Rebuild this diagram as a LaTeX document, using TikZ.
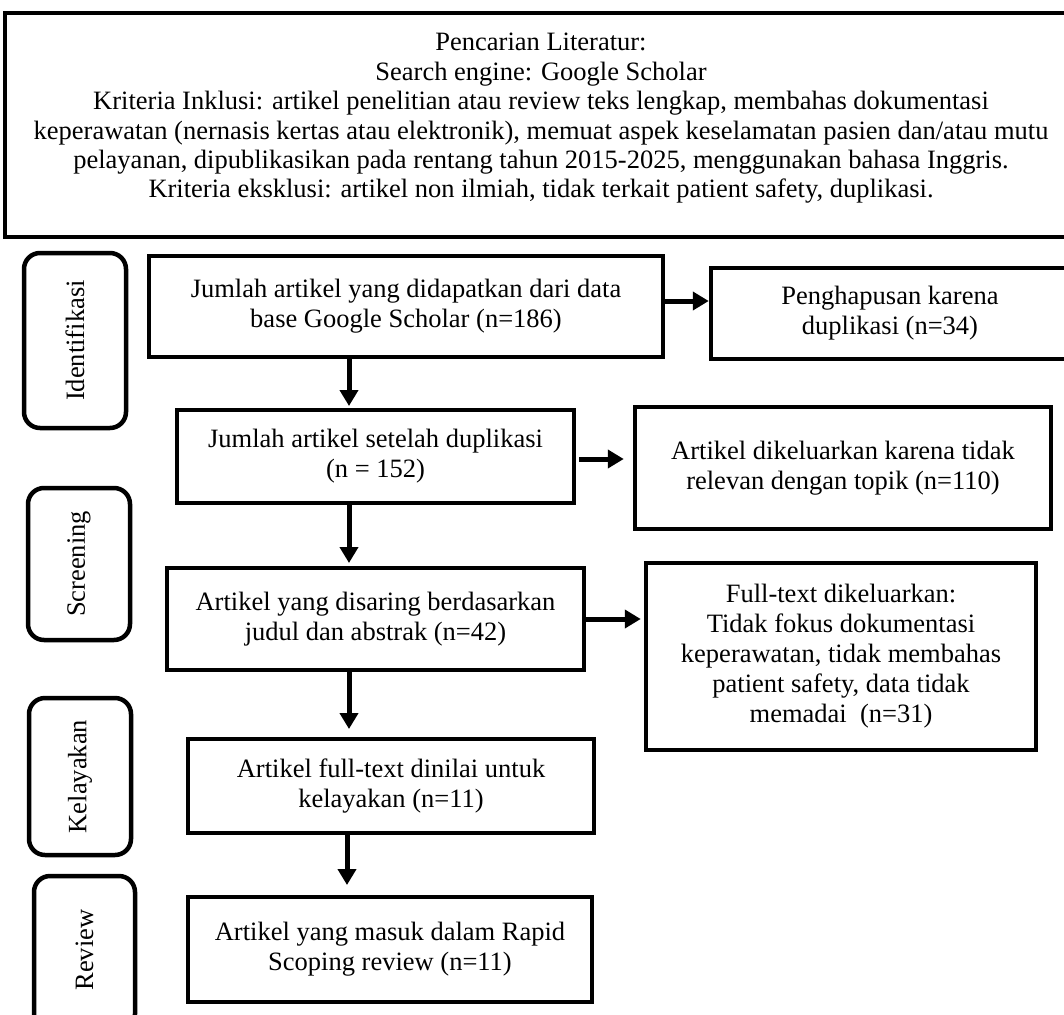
\documentclass[tikz,border=0pt]{standalone}
\usepackage{fontspec}
\setmainfont{Liberation Serif}
\usetikzlibrary{arrows.meta}
\begin{document}
\begin{tikzpicture}[x=1pt,y=-1pt,
  box/.style={draw=black,line width=4.5pt,rectangle,inner sep=0pt,align=center,font=\fontsize{26.5}{30}\selectfont},
  side/.style={draw=black,line width=4.5pt,rectangle,rounded corners=16pt,inner sep=0pt},
  sidetext/.style={rotate=90,font=\fontsize{26.5}{30}\selectfont},
  arr/.style={line width=5pt,-{Triangle[length=16pt,width=18pt]}}]
\clip (0,0) rectangle (1064,1014);
\fill[white] (0,0) rectangle (1064,1014);
% top box
\node[box,minimum width=1072pt,minimum height=224pt] (top) at (541,125) {};
\node[align=center,font=\fontsize{26.5}{29.4}\selectfont,inner sep=0pt] (toptext) at (541,118.5) {Pencarian Literatur:\\
Search engine: Google Scholar\\
Kriteria Inklusi: artikel penelitian atau review teks lengkap, membahas dokumentasi\\
keperawatan (nernasis kertas atau elektronik), memuat aspek keselamatan pasien dan/atau mutu\\
pelayanan, dipublikasikan pada rentang tahun 2015-2025, menggunakan bahasa Inggris.\\
Kriteria eksklusi: artikel non ilmiah, tidak terkait patient safety, duplikasi.};
% side boxes
\node[side,minimum width=102pt,minimum height=175pt] (id) at (75,340.5) {};
\node[sidetext] (idt) at (id.center) {Identifikasi};
\node[side,minimum width=102pt,minimum height=152pt] (scr) at (79,564) {};
\node[sidetext] (scrt) at (scr.center) {Screening};
\node[side,minimum width=102pt,minimum height=157pt] (kel) at (80,776.5) {};
\node[sidetext] (kelt) at (kel.center) {Kelayakan};
\node[side,minimum width=101pt,minimum height=154pt] (rev) at (84.5,953) {};
\node[sidetext] (revt) at (84.5,950) {Review};
% main boxes
\node[box,minimum width=514pt,minimum height=101pt] (b1) at (406,306.5) {Jumlah artikel yang didapatkan dari data\\base Google Scholar (n=186)};
\node[box,minimum width=358pt,minimum height=91pt] (pen) at (890,313.5) {Penghapusan karena\\duplikasi (n=34)};
\node[box,minimum width=397pt,minimum height=93pt] (b2) at (375.5,456.5) {Jumlah artikel setelah duplikasi\\(n = 152)};
\node[box,minimum width=416pt,minimum height=122pt] (exc) at (843,468) {Artikel dikeluarkan karena tidak\\relevan dengan topik (n=110)};
\node[box,minimum width=417pt,minimum height=102pt] (b3) at (375.5,619) {Artikel yang disaring berdasarkan\\judul dan abstrak (n=42)};
\node[box,minimum width=390pt,minimum height=187pt] (ft) at (841,656.5) {Full-text dikeluarkan:\\Tidak fokus dokumentasi\\keperawatan, tidak membahas\\patient safety, data tidak\\memadai~~(n=31)};
\node[box,minimum width=406pt,minimum height=94pt] (b4) at (391,786) {Artikel full-text dinilai untuk\\kelayakan (n=11)};
\node[box,minimum width=404pt,minimum height=105pt] (b5) at (390,949.5) {Artikel yang masuk dalam Rapid\\Scoping review (n=11)};
% arrows
\draw[arr] (349,0 |- b1.south) -- (349,406);
\draw[arr] (349,0 |- b2.south) -- (349,563);
\draw[arr] (349,0 |- b3.south) -- (349,729);
\draw[arr] (347,0 |- b4.south) -- (347,885);
\draw[arr] (b1.east |- 0,301) -- (pen.west |- 0,301);
\draw[arr] (579,459) -- ([xshift=-9pt]exc.west |- 0,459);
\draw[arr] (b3.east |- 0,619) -- ([xshift=-3pt]ft.west |- 0,619);
\end{tikzpicture}
\end{document}
